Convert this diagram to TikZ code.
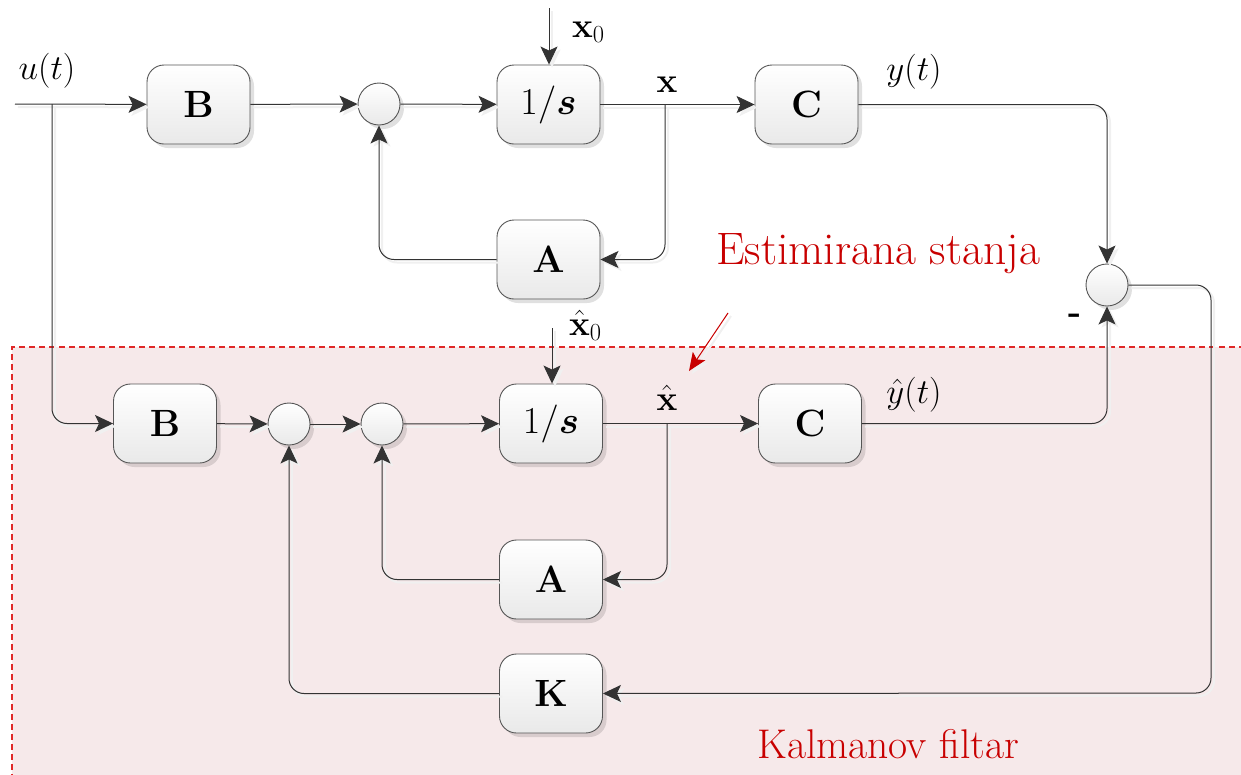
\RequirePackage{fix-cm}
\documentclass[tikz,border=0pt]{standalone}
\usepackage{amsmath}
\usetikzlibrary{arrows.meta,shadows}

\definecolor{wirec}{HTML}{333333}
\definecolor{edgec}{HTML}{555555}
\definecolor{boxlow}{HTML}{E9E9E9}
\definecolor{filterbg}{RGB}{246,233,234}
\definecolor{filterline}{HTML}{E02828}
\definecolor{notered}{HTML}{C80000}

\tikzset{
  blockfont/.style={font=\fontsize{38}{44}\selectfont},
  labelfont/.style={font=\fontsize{35}{42}\selectfont},
  signalfont/.style={font=\fontsize{35}{42}\selectfont},
  notefont/.style={font=\fontsize{41.5}{48}\selectfont, text=notered},
  softshadow/.style={drop shadow={shadow xshift=4pt, shadow yshift=-4pt, fill=black, opacity=0.12}},
  block/.style={draw=edgec, line width=0.9pt, rounded corners=17pt,
    minimum width=103pt, minimum height=79pt, inner sep=0pt,
    top color=white, bottom color=boxlow, softshadow, blockfont},
  sumpt/.style={circle, draw=edgec, line width=0.9pt, minimum size=42pt, inner sep=0pt,
    top color=white, bottom color=boxlow, softshadow},
  wireshadow/.style={preaction={draw=black!6, line width=2pt,
    transform canvas={shift={(3pt,-3pt)}}}},
  wire/.style={draw=wirec, line width=1pt, rounded corners=15pt},
  sig/.style={wire, wireshadow, -{Stealth[length=18pt,width=17pt,inset=4pt]}},
  tag/.style={inner sep=0pt},
}

\begin{document}
\begin{tikzpicture}[x=1pt,y=-1pt]
\useasboundingbox (0,0) rectangle (1241,774);

% Kalman filter region
\fill[filterbg] (12,347) rectangle (1260,800);
\draw[filterline, line width=1.3pt, dash pattern=on 6pt off 4pt] (12,800) -- (12,347) -- (1260,347);

% plant blocks
\node[block] (B1) at (198.5,104.5) {$\mathbf{B}$};
\node[sumpt] (S1) at (379,104) {};
\node[block] (I1) at (548.5,104.5) {$1/\boldsymbol{s}$};
\node[block] (C1) at (806.5,104.5) {$\mathbf{C}$};
\node[block] (A1) at (548.5,259.5) {$\mathbf{A}$};
\node[sumpt] (S4) at (1107,285) {};

% filter blocks
\node[block] (B2) at (165,423.5) {$\mathbf{B}$};
\node[sumpt] (S2) at (289,424) {};
\node[sumpt] (S3) at (382,424) {};
\node[block] (I2) at (551,423.5) {$1/\boldsymbol{s}$};
\node[block] (C2) at (810,423.5) {$\mathbf{C}$};
\node[block] (A2) at (551,579.5) {$\mathbf{A}$};
\node[block] (K) at (551,693.5) {$\mathbf{K}$};

% free ends and branch points
\coordinate (uin) at (15,104);
\coordinate (ubr) at (52,104);
\coordinate (x0in) at (549,8);
\coordinate (xh0in) at (552,328);
\coordinate (xbr) at (665,104);
\coordinate (xhbr) at (667,424);
\coordinate (kturn) at (1211,693);
\coordinate (mark0) at (728,313);
\coordinate (mark1) at (689,371);

% plant connections
\draw[sig] (uin) -- (B1);
\draw[sig] (B1) -- (S1);
\draw[sig] (S1) -- (I1);
\draw[sig] (x0in) -- (x0in |- I1.north);
\draw[sig] (I1) -- (C1);
\draw[sig] (xbr) |- (A1);
\draw[sig] (A1) -| (S1);
\draw[sig] (C1) -| (S4);

% filter connections
\draw[sig] (ubr) |- (B2);
\draw[sig] (B2) -- (S2);
\draw[sig] (S2) -- (S3);
\draw[sig] (S3) -- (I2);
\draw[sig] (xh0in) -- (xh0in |- I2.north);
\draw[sig] (I2) -- (C2);
\draw[sig] (xhbr) |- (A2);
\draw[sig] (A2) -| (S3);
\draw[sig] (C2) -| (S4);
\draw[sig] (S4.east) -| (kturn) -- (K);
\draw[sig] (K) -| (S2);

% signal labels
\node[signalfont, tag, anchor=base] (lu) at (47,79) {$u(t)$};
\node[labelfont, tag, anchor=base west] (lx0) at (572,37) {$\mathbf{x}_0$};
\node[labelfont, tag, anchor=base] (lx) at (667,92) {$\mathbf{x}$};
\node[signalfont, tag, anchor=base] (ly) at (914,80) {$y(t)$};
\node[labelfont, tag, anchor=base west] (lxh0) at (569,335) {$\hat{\mathbf{x}}_0$};
\node[labelfont, tag, anchor=base] (lxh) at (667,410) {$\hat{\mathbf{x}}$};
\node[signalfont, tag, anchor=base] (lyh) at (914,403) {$\hat{y}(t)$};
\node[labelfont, tag] (lminus) at (1075,319) {\textbf{-}};

% annotations
\node[notefont, tag, anchor=base west, font=\fontsize{45.5}{52}\selectfont] (nest) at (716,264) {Estimirana stanja};
\draw[draw=notered, line width=1pt, wireshadow, -{Stealth[length=18pt,width=15pt,inset=4pt]}] (mark0) -- (mark1);
\node[notefont, tag, anchor=base west] (nkal) at (757,758) {Kalmanov filtar};
\end{tikzpicture}
\end{document}
